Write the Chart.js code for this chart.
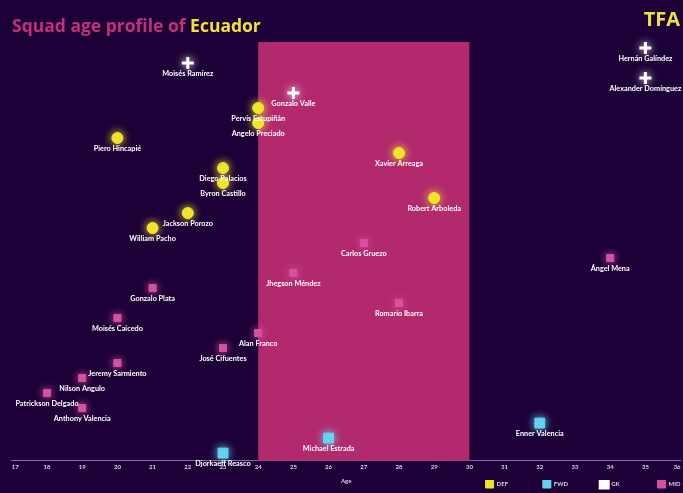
<!DOCTYPE html>
<html>
<head>
<meta charset="utf-8">
<script src="https://cdn.jsdelivr.net/npm/chart.js@4/dist/chart.umd.min.js"></script>
<style>
    html, body { margin: 0; padding: 0; background: #1c0037; overflow: hidden; }
    #wrap { width: 683px; height: 493px; position: relative; }
    #myChart { display: block; }
</style>
</head>
<body>
<div id="wrap"><canvas id="myChart"></canvas></div>
<script>
// squad data, y is just the order the players are stacked in
const def_names = ['Pervis Estupiñán', 'Angelo Preciado', 'Piero Hincapié', 'Xavier Arreaga', 'Diego Palacios',
    'Byron Castillo', 'Robert Arboleda', 'Jackson Porozo', 'William Pacho']
const def_ages = [24, 24, 20, 28, 23, 23, 29, 22, 21]
const def_order = [24, 23, 22, 21, 20, 19, 18, 17, 16]

const fwd_names = ['Enner Valencia', 'Michael Estrada', 'Djorkaeff Reasco']
const fwd_ages = [32, 26, 23]
const fwd_order = [3, 2, 1]

const gk_names = ['Hernán Galíndez', 'Moisés Ramírez', 'Alexander Domínguez', 'Gonzalo Valle']
const gk_ages = [35, 22, 35, 25]
const gk_order = [28, 27, 26, 25]

const mid_names = ['Carlos Gruezo', 'Ángel Mena', 'Jhegson Méndez', 'Gonzalo Plata', 'Romario Ibarra', 'Moisés Caicedo',
    'Alan Franco', 'José Cifuentes', 'Jeremy Sarmiento', 'Nilson Angulo', 'Patrickson Delgado', 'Anthony Valencia']
const mid_ages = [27, 34, 25, 21, 28, 20, 24, 23, 20, 19, 18, 19]
const mid_order = [15, 14, 13, 12, 11, 10, 9, 8, 7, 6, 5, 4]

const position_labels = ['DEF', 'FWD', 'GK', 'MID']
const age_ticks = [17, 18, 19, 20, 21, 22, 23, 24, 25, 26, 27, 28, 29, 30, 31, 32, 33, 34, 35, 36]
const peak_age = [24, 30]

const PINK = '#b3296d'
const LEGEND_FONT = 'bold 6px Lato'

function points(ages, order) {
    let out = []
    for (let i = 0; i < ages.length; i++) {
        out.push({x: ages[i], y: order[i]})
    }
    return out
}

// the legend entries sit far apart, pad the text so the boxes spread out
const measure = document.createElement('canvas').getContext('2d')
measure.font = LEGEND_FONT
function padLabel(text) {
    let out = text
    while (measure.measureText(out).width < 46) {
        out += '\u00a0'
    }
    return out
}

// peak age band behind the points
const peakBand = {
    id: 'peakBand',
    beforeDatasetsDraw(chart) {
        const {ctx, chartArea, scales} = chart
        const x0 = scales.x.getPixelForValue(peak_age[0])
        const x1 = scales.x.getPixelForValue(peak_age[1])
        ctx.save()
        ctx.fillStyle = PINK
        ctx.fillRect(x0, chartArea.top, x1 - x0, chartArea.bottom - chartArea.top)
        ctx.restore()
    }
}

// soft glow round the markers
const glow = {
    id: 'glow',
    beforeDatasetDraw(chart, args) {
        const ds = chart.data.datasets[args.index]
        chart.ctx.save()
        chart.ctx.shadowColor = ds.backgroundColor
        chart.ctx.shadowBlur = 9
    },
    afterDatasetDraw(chart) {
        chart.ctx.restore()
    }
}

// player names under each marker
const nameLabels = {
    id: 'nameLabels',
    afterDatasetsDraw(chart) {
        const ctx = chart.ctx
        ctx.save()
        ctx.font = 'bold 7.3px Lato'
        ctx.fillStyle = '#ffffff'
        ctx.textAlign = 'center'
        ctx.textBaseline = 'middle'
        chart.data.datasets.forEach((ds, di) => {
            chart.getDatasetMeta(di).data.forEach((pt, i) => {
                ctx.fillText(ds.names[i], pt.x, pt.y + 11)
            })
        })
        ctx.restore()
    }
}

const heading = {
    id: 'heading',
    afterDraw(chart) {
        const ctx = chart.ctx
        ctx.save()
        ctx.font = 'bold 17.5px "Open Sans"'
        ctx.textBaseline = 'middle'
        ctx.textAlign = 'left'
        const first = 'Squad age profile of '
        ctx.fillStyle = '#c2317a'
        ctx.fillText(first, 12, 27)
        ctx.fillStyle = '#ece23a'
        ctx.fillText('Ecuador', 12 + ctx.measureText(first).width, 27)
        ctx.font = 'bold 20px "Open Sans"'
        ctx.textAlign = 'right'
        ctx.fillText('TFA', 680, 20)
        ctx.restore()
    }
}

const ctx = document.getElementById('myChart')
const myChart = new Chart(ctx, {
    type: 'scatter',
    data: {
        datasets: [{
            label: position_labels[0],
            names: def_names,
            data: points(def_ages, def_order),
            backgroundColor: '#efe42c',
            borderColor: '#efe42c',
            pointStyle: 'circle',
            pointRadius: 5.5,
            clip: false
        }, {
            label: position_labels[1],
            names: fwd_names,
            data: points(fwd_ages, fwd_order),
            backgroundColor: '#64d3ee',
            borderColor: '#64d3ee',
            pointStyle: 'rect',
            pointRadius: 7,
            clip: false
        }, {
            label: position_labels[2],
            names: gk_names,
            data: points(gk_ages, gk_order),
            backgroundColor: '#ffffff',
            borderColor: '#ffffff',
            pointStyle: 'cross',
            pointRadius: 6,
            pointBorderWidth: 3,
            clip: false
        }, {
            label: position_labels[3],
            names: mid_names,
            data: points(mid_ages, mid_order),
            backgroundColor: '#d253a0',
            borderColor: '#d253a0',
            pointStyle: 'rect',
            pointRadius: 5,
            clip: false
        }]
    },
    options: {
        responsive: true,
        maintainAspectRatio: false,
        animation: false,
        events: [],
        layout: {
            autoPadding: false,
            padding: {top: 42, left: 11.8, right: 2.4, bottom: -5}
        },
        scales: {
            x: {
                type: 'linear',
                min: 17,
                max: 36,
                afterBuildTicks: (axis) => {
                    axis.ticks = age_ticks.map((v) => ({value: v}))
                },
                afterFit: (axis) => {
                    // let the end labels hang over the edge like the original
                    axis.paddingLeft = 0
                    axis.paddingRight = 0
                },
                grid: {display: false, drawTicks: false},
                border: {display: true, color: '#7e6aa8', width: 1},
                ticks: {
                    color: '#d9d0ea',
                    font: {size: 6, weight: 'bold', family: 'Lato'},
                    padding: 3,
                    align: 'inner',
                    maxRotation: 0,
                    autoSkip: false
                },
                title: {
                    display: true,
                    text: 'Age',
                    color: '#d9d0ea',
                    font: {size: 6, weight: 'bold', family: 'Lato'},
                    padding: {top: 4, bottom: -5}
                }
            },
            y: {
                display: false,
                min: 0.5,
                max: 28.4
            }
        },
        plugins: {
            legend: {
                position: 'bottom',
                align: 'end',
                labels: {
                    color: '#d9d0ea',
                    font: {size: 6, weight: 'bold', family: 'Lato'},
                    boxWidth: 8,
                    boxHeight: 8,
                    padding: 0,
                    generateLabels: (chart) => {
                        const items = Chart.defaults.plugins.legend.labels.generateLabels(chart)
                        items.forEach((item, i) => {
                            if (i < items.length - 1) item.text = padLabel(item.text)
                        })
                        return items
                    }
                }
            },
            tooltip: {enabled: false}
        }
    },
    plugins: [peakBand, glow, nameLabels, heading]
})
</script>
</body>
</html>
